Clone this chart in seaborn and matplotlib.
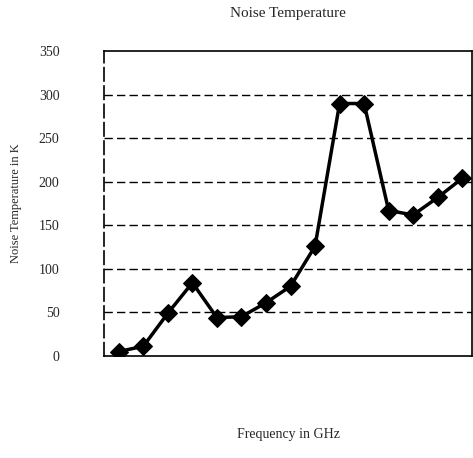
import pandas as pd
import seaborn as sns
import matplotlib.pyplot as plt

# readings (x axis has no tick labels, so just sample number)
sample = [1, 2, 3, 4, 5, 6, 7, 8, 9, 10, 11, 12, 13, 14, 15]
noise_temp = [5, 11, 49, 84, 44, 45, 61, 80, 126, 290, 290, 167, 162, 182, 204]
y_ticks = [0, 50, 100, 150, 200, 250, 300, 350]

df = pd.DataFrame({'sample': sample, 'noise_temp': noise_temp})

sns.set_theme(style="white")
plt.rcParams['font.family'] = ['Liberation Serif', 'DejaVu Serif']

fig = plt.figure(figsize=(4.73, 4.58), dpi=100)
ax = fig.add_axes([0.22, 0.223, 0.778, 0.665])

# dashed grid lines like the original
for t in y_ticks[1:-1]:
    ax.axhline(t, color='black', lw=1, ls=(0, (6, 3)), zorder=1)

sns.lineplot(x='sample', y='noise_temp', data=df, ax=ax, color='black',
             lw=2.5, marker='D', markersize=9, markeredgecolor='black', zorder=3)

ax.set_xlim(0.4, 15.4)
ax.set_ylim(0, 350)
ax.set_yticks(y_ticks)
ax.set_yticklabels([str(t) for t in y_ticks], fontsize=10)
ax.set_xticks([])
ax.tick_params(axis='y', length=0, pad=32)
for s in ax.spines.values():
    s.set_color('black')
    s.set_linewidth(1.2)
ax.spines['left'].set_linestyle((0, (8, 3)))

ax.set_title('Noise Temperature', fontsize=11, pad=25)
ax.set_xlabel('Frequency in GHz', fontsize=10, labelpad=52)
ax.set_ylabel('Noise Temperature in K', fontsize=9, labelpad=12)

plt.savefig('out.png', dpi=100)
